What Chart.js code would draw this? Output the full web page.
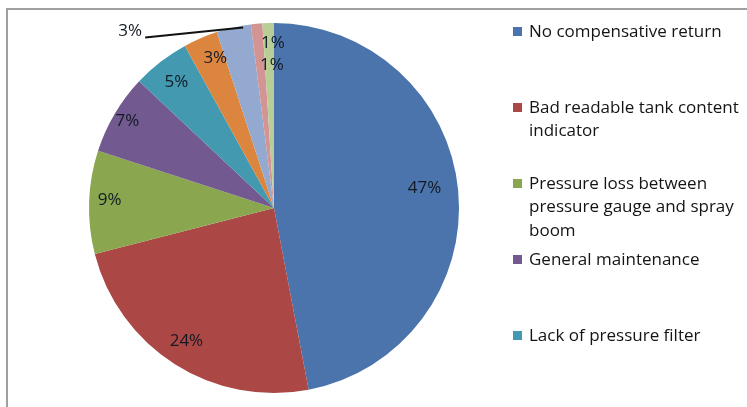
<!DOCTYPE html>
<html>
<head>
<meta charset="utf-8">
<script src="https://cdn.jsdelivr.net/npm/chart.js@4.4.0/dist/chart.umd.min.js"></script>
<style>
    html, body { margin: 0; padding: 0; background: #fff; }
    #wrap { position: relative; width: 747px; height: 407px; overflow: hidden; }
    #frame {
        position: absolute; left: 6px; top: 8px; width: 800px; height: 500px;
        border-top: 2px solid #a0a0a0; border-left: 2px solid #a0a0a0;
    }
    canvas { position: absolute; left: 0; top: 0; }
</style>
</head>
<body>
<div id="wrap">
    <div id="frame"></div>
    <canvas id="pie-chart" width="747" height="407"></canvas>
</div>
<script>
// causes of sprayer faults, share of inspections (%)
const categories = [
    'No compensative return',
    'Bad readable tank content indicator',
    'Pressure loss between pressure gauge and spray boom',
    'General maintenance',
    'Lack of pressure filter',
    'Other cause 6',
    'Other cause 7',
    'Other cause 8',
    'Other cause 9'
];
const shares = [47, 24, 9, 7, 5, 3, 3, 1, 1];
const percentLabels = ['47%', '24%', '9%', '7%', '5%', '3%', '3%', '1%', '1%'];
const legendCount = 5; // only the first five fit in the legend box

const colors = ['#4a74ab', '#ab4744', '#8aa74f', '#72598f', '#4299b0',
                '#dc853e', '#93a9d0', '#d39593', '#b9ce97'];

const FONT = '"Open Sans", sans-serif';

// label placement: radial fraction and angle nudge (deg) per slice
const labelRadius = [0.82, 0.86, 0.89, 0.92, 0.86, 0.87, null, 0.89, 0.77];
const labelNudge  = [-2, 1, 1, 0, 0, 2, 0, 5, 1];

const pieLabels = {
    id: 'pieLabels',
    afterDatasetsDraw(chart) {
        const ctx = chart.ctx;
        const arcs = chart.getDatasetMeta(0).data;
        ctx.save();
        ctx.font = '17px ' + FONT;
        ctx.fillStyle = '#141a24';
        ctx.textBaseline = 'middle';
        arcs.forEach((arc, i) => {
            const p = arc.getProps(['x', 'y', 'startAngle', 'endAngle', 'outerRadius'], true);
            const mid = (p.startAngle + p.endAngle) / 2;
            if (labelRadius[i] === null) {
                // outside label with leader line
                const a = mid + 3 * Math.PI / 180;
                const sx = p.x + Math.cos(a) * p.outerRadius;
                const sy = p.y + Math.sin(a) * p.outerRadius + 2;
                const ex = sx - 98, ey = sy + 10;
                ctx.strokeStyle = '#111';
                ctx.lineWidth = 2;
                ctx.beginPath();
                ctx.moveTo(sx, sy);
                ctx.lineTo(ex, ey);
                ctx.stroke();
                ctx.textAlign = 'right';
                ctx.fillText(percentLabels[i], ex - 3, ey - 6);
                return;
            }
            const a = mid + labelNudge[i] * Math.PI / 180;
            const r = p.outerRadius * labelRadius[i];
            ctx.textAlign = 'center';
            ctx.fillText(percentLabels[i], p.x + Math.cos(a) * r, p.y + Math.sin(a) * r);
        });
        ctx.restore();
    }
};

function wrapText(ctx, text, maxWidth) {
    let words = text.split(' ');
    let lines = [];
    let line = '';
    words.forEach(w => {
        let test = line ? line + ' ' + w : w;
        if (ctx.measureText(test).width > maxWidth && line) {
            lines.push(line);
            line = w;
        } else {
            line = test;
        }
    });
    if (line) lines.push(line);
    return lines;
}

const sideLegend = {
    id: 'sideLegend',
    afterDraw(chart) {
        const ctx = chart.ctx;
        const left = 513, top = 32, slot = 76, lineH = 23.5;
        ctx.save();
        ctx.font = '17px ' + FONT;
        ctx.textBaseline = 'middle';
        ctx.textAlign = 'left';
        for (let i = 0; i < legendCount; i++) {
            const y = top + i * slot;
            ctx.fillStyle = colors[i];
            ctx.fillRect(left, y - 5, 9, 9);
            ctx.fillStyle = '#141414';
            wrapText(ctx, categories[i], 216).forEach((ln, k) => {
                ctx.fillText(ln, left + 16, y + k * lineH);
            });
        }
        ctx.restore();
    }
};

new Chart(document.getElementById('pie-chart').getContext('2d'), {
    type: 'pie',
    data: {
        labels: categories,
        datasets: [{
            data: shares,
            backgroundColor: colors,
            borderWidth: 0
        }]
    },
    options: {
        responsive: false,
        animation: false,
        layout: { padding: { left: 89, right: 288, top: 23, bottom: 14 } },
        plugins: {
            legend: { display: false },
            tooltip: { enabled: false }
        }
    },
    plugins: [pieLabels, sideLegend]
});
</script>
</body>
</html>
